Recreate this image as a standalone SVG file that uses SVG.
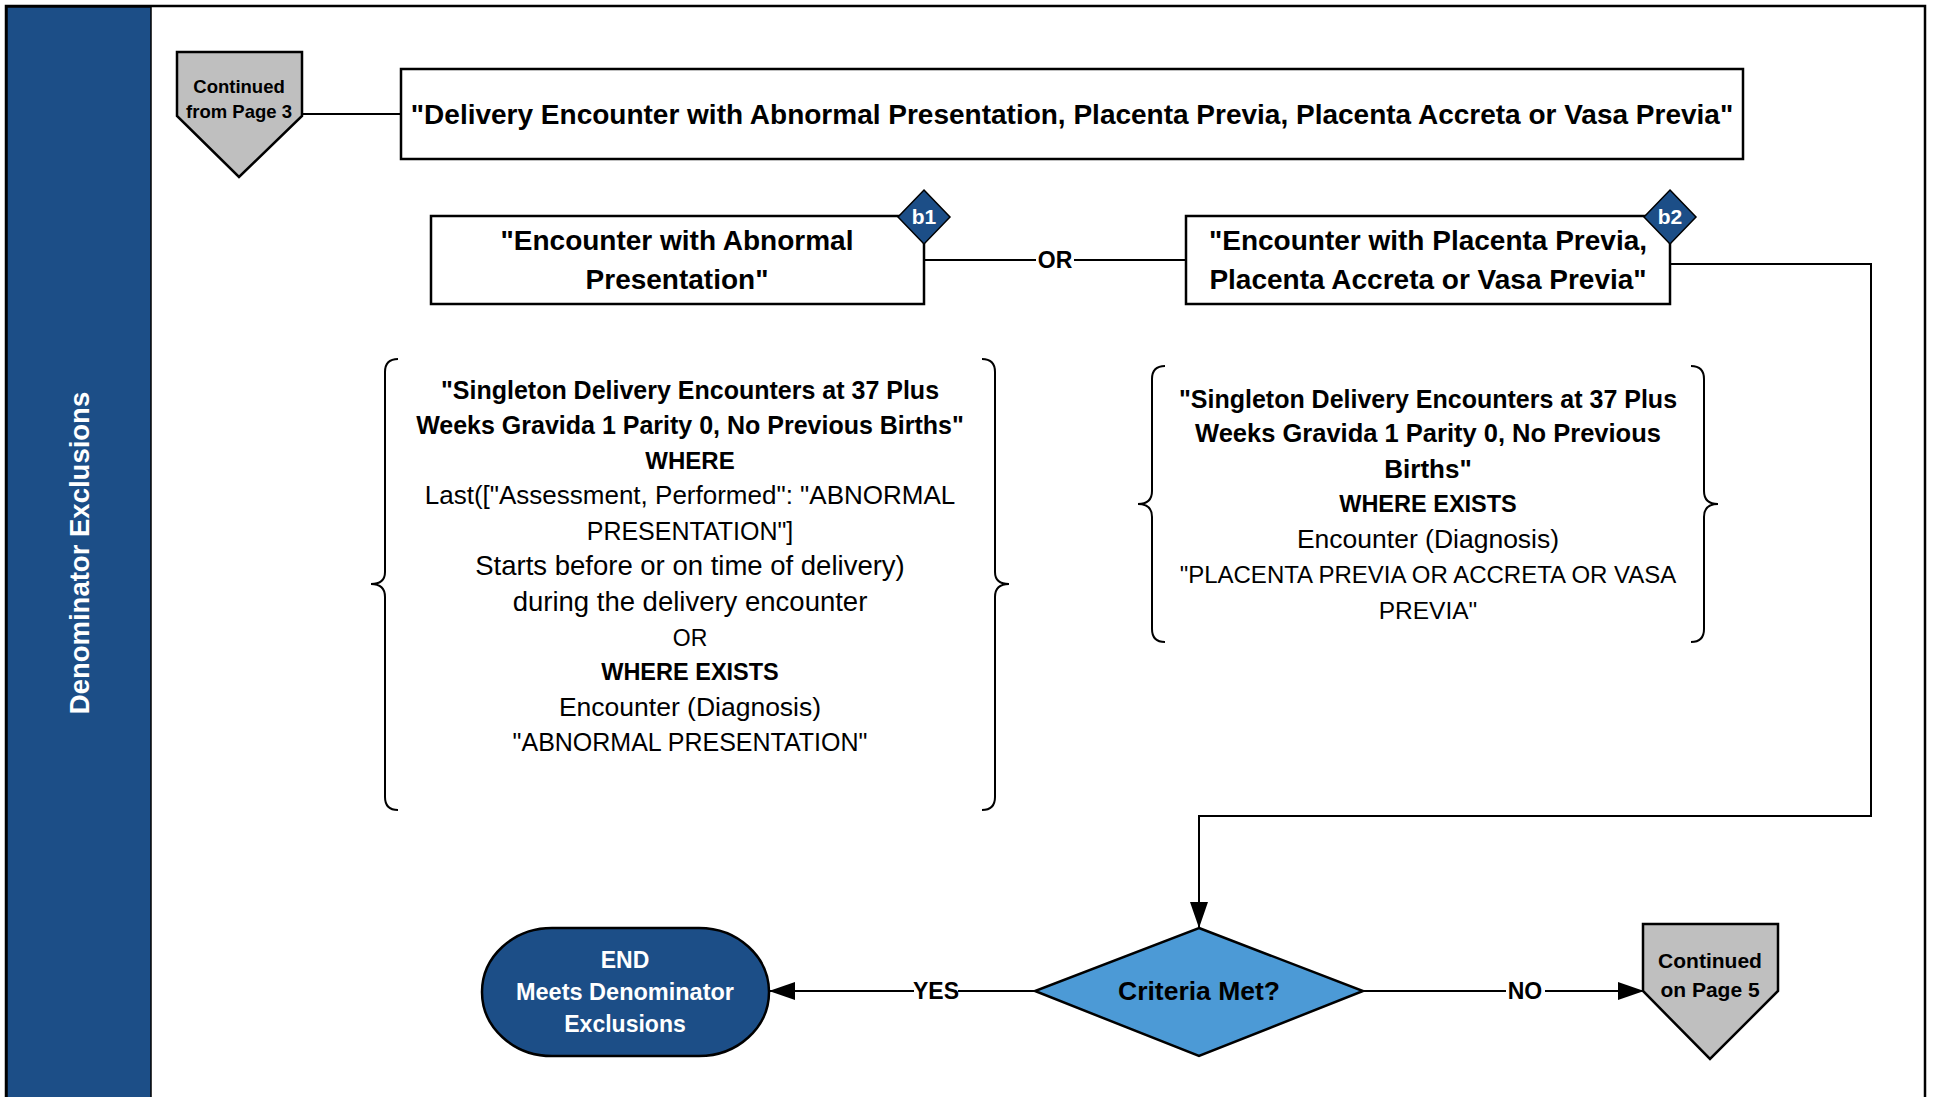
<svg xmlns="http://www.w3.org/2000/svg" width="1935" height="1097" viewBox="0 0 1935 1097">
<style>
.t{font-family:"Liberation Sans",Arial,sans-serif;fill:#000;text-anchor:middle}
.b{font-weight:bold}
.w{fill:#fff}
.box{fill:#fff;stroke:#000;stroke-width:2.5}
.off{fill:#BFBFBF;stroke:#000;stroke-width:2.5}
.ln{fill:none;stroke:#000;stroke-width:2}
.br{fill:none;stroke:#000;stroke-width:2}
.badge{fill:#1C4E87;stroke:#000;stroke-width:1.5}
</style>
<defs>
<marker id="arr" markerWidth="26" markerHeight="18" refX="25" refY="9" orient="auto" markerUnits="userSpaceOnUse">
<path d="M0,0 L26,9 L0,18 Z" fill="#000"/>
</marker>
</defs>
<rect x="0" y="0" width="1935" height="1097" fill="#fff"/>
<g id="page">
<rect x="6" y="6" width="1919" height="1100" fill="none" stroke="#000" stroke-width="2.5"/>
<rect x="7" y="7" width="144" height="1100" fill="#1C4E87" stroke="#000" stroke-width="1.5"/>
<text class="t b w" font-size="27.5" transform="translate(89,553) rotate(-90)">Denominator Exclusions</text>
</g>
<g id="connectors">
<line class="ln" x1="302" y1="114" x2="401" y2="114"/>
<line class="ln" x1="924" y1="260" x2="1036" y2="260"/>
<line class="ln" x1="1074" y1="260" x2="1186" y2="260"/>
<text class="t b" font-size="23" x="1055" y="268">OR</text>
<polyline class="ln" points="1670,264 1871,264 1871,816 1199,816 1199,927" marker-end="url(#arr)"/>
<line class="ln" x1="1034" y1="991" x2="958" y2="991"/>
<line class="ln" x1="914" y1="991" x2="770" y2="991" marker-end="url(#arr)"/>
<text class="t b" font-size="23" x="936" y="999">YES</text>
<line class="ln" x1="1362" y1="991" x2="1506" y2="991"/>
<line class="ln" x1="1545" y1="991" x2="1643" y2="991" marker-end="url(#arr)"/>
<text class="t b" font-size="23" x="1525" y="999">NO</text>
</g>
<g id="from-page-3">
<polygon class="off" points="177,52 302,52 302,116 239,177 177,116"/>
<text class="t b" font-size="18.5" x="239" y="93">Continued</text>
<text class="t b" font-size="18.5" x="239" y="118">from Page 3</text>
</g>
<g id="delivery-encounter">
<rect class="box" x="401" y="69" width="1342" height="90"/>
<text class="t b" font-size="28" x="1072" y="124">"Delivery Encounter with Abnormal Presentation, Placenta Previa, Placenta Accreta or Vasa Previa"</text>
</g>
<g id="b1">
<rect class="box" x="431" y="216" width="493" height="88"/>
<text class="t b" font-size="28" x="677" y="250">"Encounter with Abnormal</text>
<text class="t b" font-size="28" x="677" y="289">Presentation"</text>
<polygon class="badge" points="924,190 950,217 924,244 898,217"/>
<text class="t b w" font-size="21" x="924" y="224">b1</text>
</g>
<g id="b2">
<rect class="box" x="1186" y="216" width="484" height="88"/>
<text class="t b" font-size="28" x="1428" y="250">"Encounter with Placenta Previa,</text>
<text class="t b" font-size="28" x="1428" y="289">Placenta Accreta or Vasa Previa"</text>
<polygon class="badge" points="1670,190 1696,217 1670,244 1644,217"/>
<text class="t b w" font-size="21" x="1670" y="224">b2</text>
</g>
<g id="b1-detail">
<path class="br" d="M398,359 Q385,359 385,372 L385,572 Q385,584 371,584 Q385,584 385,597 L385,797 Q385,810 398,810"/>
<path class="br" d="M982,359 Q995,359 995,372 L995,572 Q995,584 1009,584 Q995,584 995,597 L995,797 Q995,810 982,810"/>
<text class="t b" font-size="25" x="690" y="399">"Singleton Delivery Encounters at 37 Plus</text>
<text class="t b" font-size="25" x="690" y="434">Weeks Gravida 1 Parity 0, No Previous Births"</text>
<text class="t b" font-size="24" x="690" y="469">WHERE</text>
<text class="t" font-size="26" x="690" y="504">Last(["Assessment, Performed": "ABNORMAL</text>
<text class="t" font-size="25" x="690" y="540">PRESENTATION"]</text>
<text class="t" font-size="27.5" x="690" y="575">Starts before or on time of delivery)</text>
<text class="t" font-size="27.5" x="690" y="611">during the delivery encounter</text>
<text class="t" font-size="23" x="690" y="646">OR</text>
<text class="t b" font-size="23.5" x="690" y="680">WHERE EXISTS</text>
<text class="t" font-size="26.5" x="690" y="716">Encounter (Diagnosis)</text>
<text class="t" font-size="25" x="690" y="751">"ABNORMAL PRESENTATION"</text>
</g>
<g id="b2-detail">
<path class="br" d="M1165,366 Q1152,366 1152,379 L1152,491 Q1152,504 1138,504 Q1152,504 1152,517 L1152,629 Q1152,642 1165,642"/>
<path class="br" d="M1691,366 Q1704,366 1704,379 L1704,491 Q1704,504 1718,504 Q1704,504 1704,517 L1704,629 Q1704,642 1691,642"/>
<text class="t b" font-size="25" x="1428" y="408">"Singleton Delivery Encounters at 37 Plus</text>
<text class="t b" font-size="25.5" x="1428" y="442">Weeks Gravida 1 Parity 0, No Previous</text>
<text class="t b" font-size="26" x="1428" y="478">Births"</text>
<text class="t b" font-size="23.5" x="1428" y="512">WHERE EXISTS</text>
<text class="t" font-size="26.5" x="1428" y="548">Encounter (Diagnosis)</text>
<text class="t" font-size="24" x="1428" y="583">"PLACENTA PREVIA OR ACCRETA OR VASA</text>
<text class="t" font-size="24.5" x="1428" y="619">PREVIA"</text>
</g>
<g id="criteria-met">
<polygon points="1199,928 1363,991 1199,1056 1035,991" fill="#4C9AD6" stroke="#000" stroke-width="2.5"/>
<text class="t b" font-size="26.5" x="1199" y="1000">Criteria Met?</text>
</g>
<g id="end">
<rect x="482" y="928" width="287" height="128" rx="70" ry="64" fill="#1C4E87" stroke="#000" stroke-width="2.5"/>
<text class="t b w" font-size="23" x="625" y="968">END</text>
<text class="t b w" font-size="23.5" x="625" y="1000">Meets Denominator</text>
<text class="t b w" font-size="23" x="625" y="1032">Exclusions</text>
</g>
<g id="to-page-5">
<polygon class="off" points="1643,924 1778,924 1778,991 1710,1059 1643,991"/>
<text class="t b" font-size="21" x="1710" y="968">Continued</text>
<text class="t b" font-size="21" x="1710" y="997">on Page 5</text>
</g>
</svg>
